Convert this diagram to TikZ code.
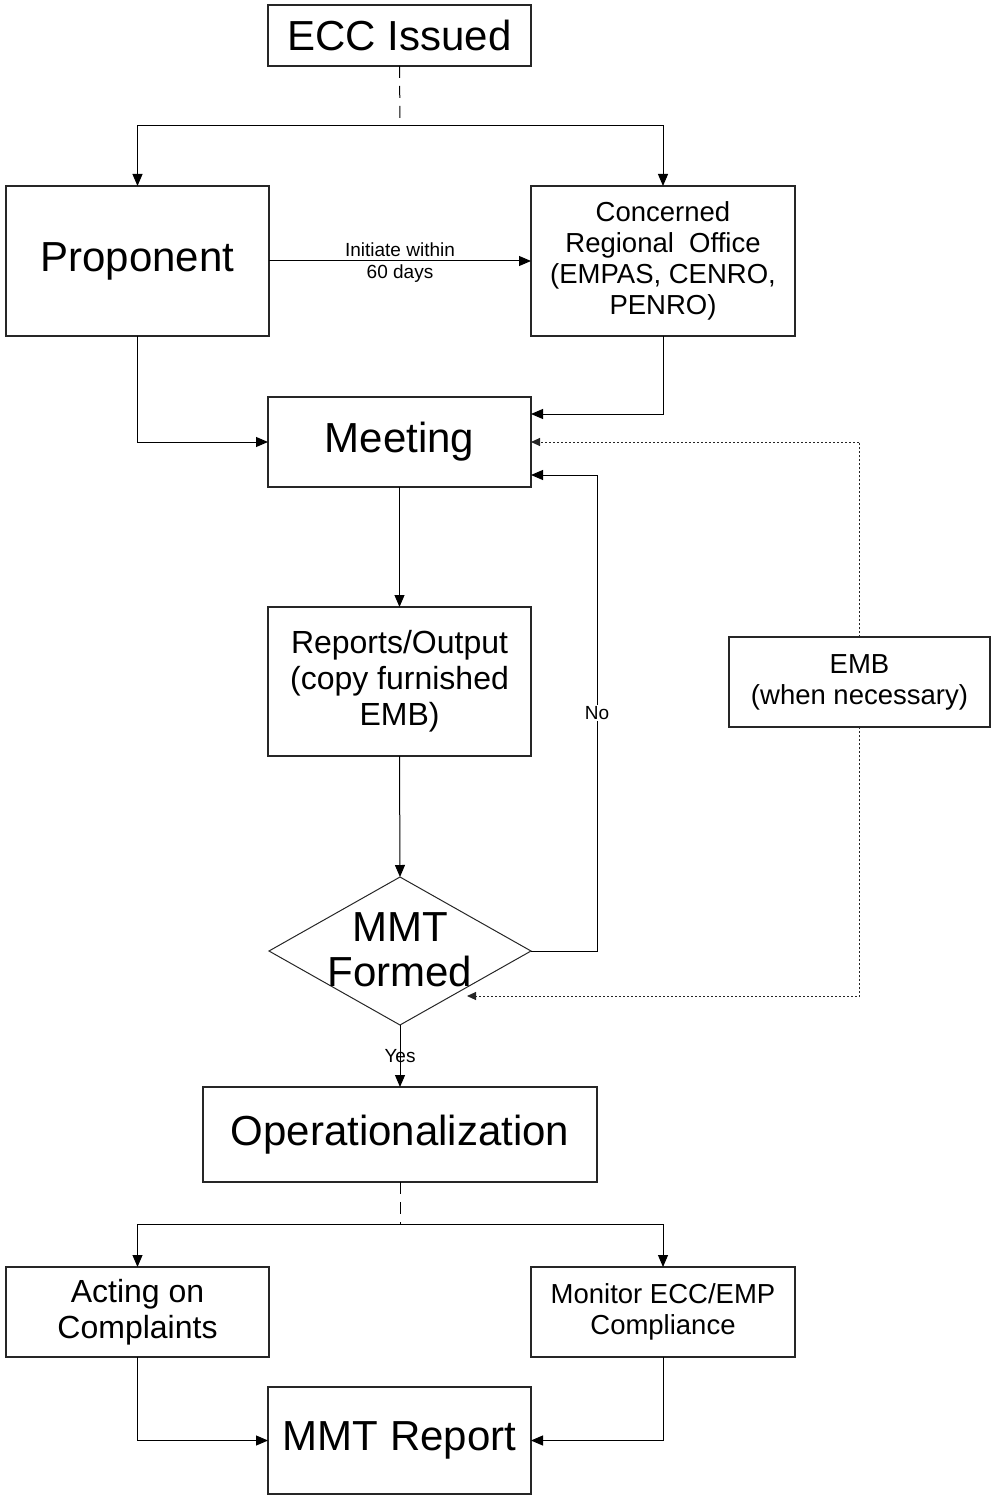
\documentclass[tikz,border=0pt]{standalone}
\usepackage{fontspec}
\setmainfont{Liberation Sans}
\usepackage{tikz}
\usetikzlibrary{arrows.meta}
\usetikzlibrary{shapes}
\usetikzlibrary{calc}

\tikzset{
	box/.style={draw=black!85, line width=1.3pt, rectangle, inner sep=0pt, outer sep=0pt, align=center},
	link/.style={line width=1pt, -{Triangle[length=12pt,width=10pt]}},
	dotlink/.style={line width=1pt, black!85, dash pattern=on 2pt off 2pt, -{Triangle[length=9pt,width=8pt]}},
	dashlink/.style={line width=1pt, dash pattern=on 12pt off 8pt},
	bigtxt/.style={font=\fontsize{42}{45}\selectfont},
	midtxt/.style={font=\fontsize{32}{36}\selectfont},
	smalltxt/.style={font=\fontsize{27.5}{31}\selectfont},
	tinytxt/.style={font=\fontsize{19}{21}\selectfont}
}

\begin{document}
\begin{tikzpicture}[x=1pt, y=-1pt]
		\useasboundingbox (0,0) rectangle (991,1495);

		\node[box, bigtxt, minimum width=263pt, minimum height=61pt] (ecc) at (399.5,35.5) {ECC Issued};
		\node[box, bigtxt, minimum width=263pt, minimum height=150pt] (prop) at (137.5,261) {Proponent};
		\node[box, smalltxt, minimum width=264pt, minimum height=150pt] (cro) at (663,261) {Concerned\\Regional~~Office\\(EMPAS, CENRO,\\PENRO)};
		\node[box, bigtxt, minimum width=263pt, minimum height=90pt] (meet) at (399.5,442) {Meeting};
		\node[box, midtxt, minimum width=263pt, minimum height=149pt] (rep) at (399.5,681.5) {Reports/Output\\(copy furnished\\EMB)};
		\node[box, smalltxt, minimum width=261pt, minimum height=90pt] (emb) at (859.5,682) {EMB\\(when necessary)};
		\node[draw=black!85, line width=1pt, diamond, minimum width=262pt, minimum height=148pt, inner sep=0pt, outer sep=0pt] (mmt) at (400,951) {};
		\node[bigtxt, align=center] (mmtt) at (400,950) {MMT\\Formed};
		\node[box, bigtxt, minimum width=394pt, minimum height=95pt] (oper) at (400,1134.5) {Operationalization};
		\node[box, midtxt, minimum width=263pt, minimum height=90pt] (act) at (137.5,1312) {Acting on\\Complaints};
		\node[box, smalltxt, minimum width=264pt, minimum height=90pt] (mon) at (663,1312) {Monitor ECC/EMP\\Compliance};
		\node[box, bigtxt, minimum width=263pt, minimum height=107pt] (rpt) at (399.5,1440.5) {MMT Report};

		\coordinate (jt) at (400,126);
		\coordinate (jb) at (400,1224);
		\coordinate (mf) at (467,996);

		\draw[dashlink] (ecc.south) -- (jt);
		\foreach \n in {prop,cro}
			\draw[link] (jt) -| (\n.north);
		\draw[link] (prop.east) -- (cro.west)
			node[midway, above, tinytxt, inner sep=3.5pt] {Initiate within}
			node[midway, below, tinytxt, inner sep=3pt] {60 days};
		\draw[link] (prop.south) |- (meet.west);
		\draw[link] (cro.south) |- ($(meet.east)+(0,-28)$);
		\draw[dotlink] (emb.north) |- (meet.east);
		\draw[link] (mmt.east) -- ++(66,0) |- ($(meet.east)+(0,33)$) node[pos=0.25, fill=white, tinytxt, inner sep=1pt] {No};
		\draw[link] (meet.south) -- (rep.north);
		\draw[link] (rep.south) -- (mmt.north);
		\draw[dotlink] (emb.south) |- (mf);
		\draw[link] (mmt.south) -- (oper.north) node[midway, tinytxt] {Yes};

		\draw[dashlink] (oper.south) -- (jb);
		\foreach \n in {act,mon}
			\draw[link] (jb) -| (\n.north);
		\draw[link] (act.south) |- (rpt.west);
		\draw[link] (mon.south) |- (rpt.east);
%		\node at (400,0) {}; % top margin check
	\end{tikzpicture}
\end{document}
